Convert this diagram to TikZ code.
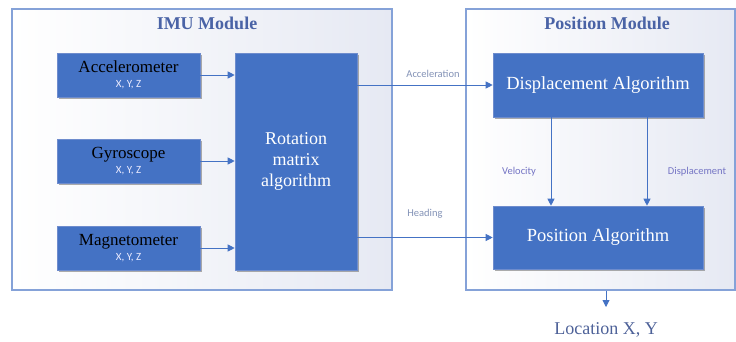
\documentclass[tikz,border=0pt]{standalone}
\usepackage{fontspec}
\setmainfont{Liberation Serif}
\newfontfamily\labfont{Carlito}
\usetikzlibrary{shadows,arrows.meta}
\definecolor{boxblue}{HTML}{4472C4}
\definecolor{modline}{HTML}{85A2D8}
\definecolor{titleblue}{HTML}{4A63A6}
\definecolor{labgray}{HTML}{8392B6}
\definecolor{labpurple}{HTML}{7474C4}
\definecolor{locblue}{HTML}{4D6198}
\definecolor{modfill}{RGB}{230,233,243}
\newcommand{\xyzline}{{\labfont\fontsize{11}{11}\selectfont\color{white!92!blue}X, Y, Z}}
\tikzset{
  module/.style={draw=modline, line width=1.2pt, shading=axis, shading angle=200, left color=white, right color=modfill, inner sep=0pt},
  blockbox/.style={draw={rgb,255:red,110;green,140;blue,205}, line width=0.6pt, fill=boxblue, inner sep=2pt, align=center,
    drop shadow={shadow xshift=2.2pt, shadow yshift=-2.2pt, fill=black!50, opacity=0.65}},
  sensorbox/.style={blockbox, minimum width=143pt, minimum height=44pt, font=\rmfamily\fontsize{17}{17}\selectfont},
  flow/.style={draw=boxblue, line width=0.9pt, -{Triangle[length=7pt,width=7pt]}},
  smalllab/.style={font=\labfont\fontsize{10.5}{12}\selectfont, text=labgray, inner sep=1pt},
  title/.style={font=\rmfamily\fontsize{18}{20}\selectfont\bfseries, text=titleblue},
}
\begin{document}
\begin{tikzpicture}[x=1pt,y=-1pt]
\useasboundingbox (0,0) rectangle (736,341);
\node[module, minimum width=380pt, minimum height=281pt] (imu) at (202,149.5) {};
\node[module, minimum width=269pt, minimum height=281pt] (pm) at (600.5,149.5) {};
\node[title] (imut) at (207,23) {IMU Module};
\node[title] (pmt) at (607,23) {Position Module};

\node[sensorbox] (acc) at (128.5,75) {Accelerometer\\[-2pt]\xyzline};
\node[sensorbox] (gyr) at (128.5,161) {Gyroscope\\[-2pt]\xyzline};
\node[sensorbox] (mag) at (128.5,248) {Magnetometer\\[-2pt]\xyzline};
\node[blockbox, minimum width=122pt, minimum height=217pt, text=white, font=\rmfamily\fontsize{18}{21}\selectfont] (rot) at (296,161.5)
  {Rotation\\matrix\\algorithm};
\node[blockbox, minimum width=210pt, minimum height=64pt, text=white, font=\rmfamily\fontsize{18.5}{20}\selectfont] (disp) at (598,85)
  {Displacement Algorithm};
\node[blockbox, minimum width=210pt, minimum height=63pt, text=white, font=\rmfamily\fontsize{18.5}{20}\selectfont] (pos) at (598,237.5)
  {Position Algorithm};

\draw[flow] (acc.east) -- (acc.east -| rot.west);
\draw[flow] (gyr.east) -- (gyr.east -| rot.west);
\draw[flow] (mag.east) -- (mag.east -| rot.west);
\draw[flow] (rot.east |- disp.west) -- (disp.west);
\draw[flow] (rot.east |- pos.west) -- (pos.west);
\draw[flow] ([xshift=-47pt]disp.south) -- ([xshift=-47pt]pos.north);
\draw[flow] ([xshift=49pt]disp.south) -- ([xshift=49pt]pos.north);

\node[smalllab] (lacc) at (433,74) {Acceleration};
\node[smalllab] (lhead) at (425,214) {Heading};
\node[smalllab, text=labpurple] (lvel) at (519,172) {Velocity};
\node[smalllab, text=labpurple] (ldis) at (697,172) {Displacement};

\coordinate (locarr) at (606,307);
\draw[flow] (pm.south -| locarr) -- (locarr);
\node[font=\rmfamily\fontsize{18}{20}\selectfont, text=locblue] (loc) at (606,330) {Location X, Y};
\end{tikzpicture}
\end{document}
